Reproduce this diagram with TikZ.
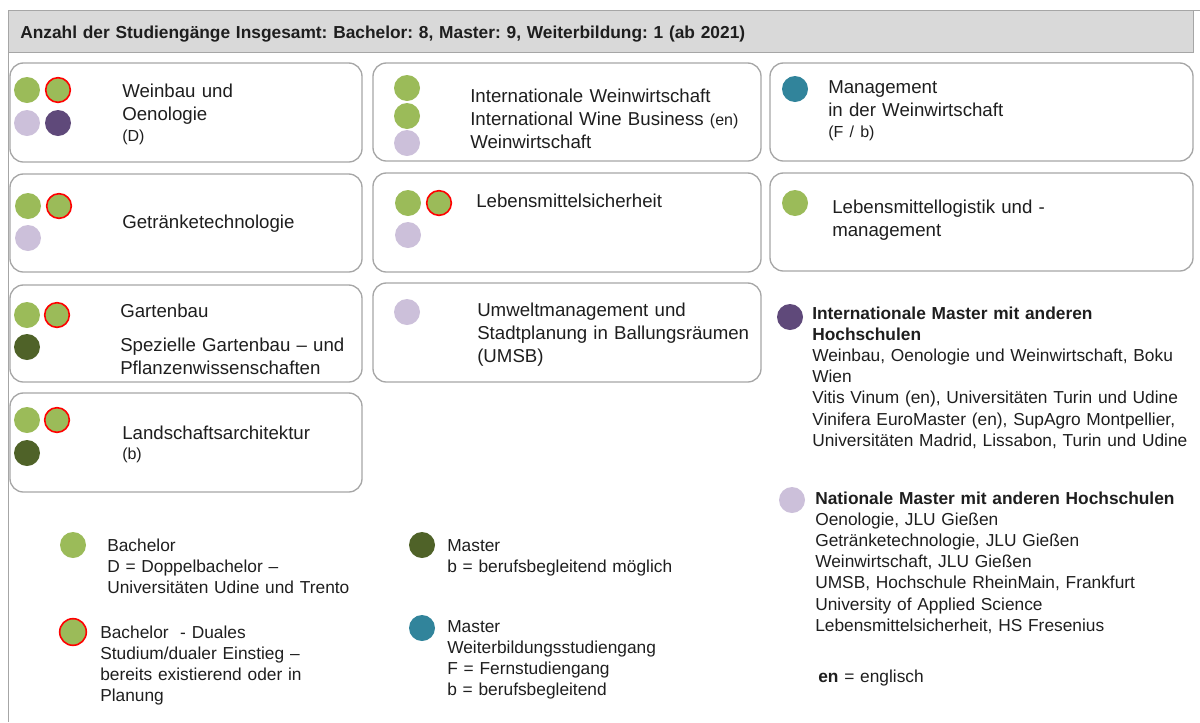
\documentclass[tikz,border=0pt]{standalone}
\usepackage{fontspec}
\setmainfont{Liberation Sans}
\frenchspacing
\definecolor{bsc}{HTML}{9BBB59}
\definecolor{lav}{HTML}{CCC0DA}
\definecolor{lila}{HTML}{5F497A}
\definecolor{msc}{HTML}{4F6228}
\definecolor{wbl}{HTML}{31849B}
\definecolor{rahmen}{HTML}{A6A6A6}
\definecolor{kopf}{HTML}{D9D9D9}
\definecolor{schrift}{HTML}{1E1E1E}

\begin{document}
\begin{tikzpicture}[x=0.75pt, y=-0.75pt,
    box/.style={draw=rahmen, line width=1pt, rounded corners=10pt},
    dot/.style={circle, inner sep=0pt, minimum size=19.5pt},
    dual/.style={dot, fill=bsc, draw=red, line width=1.2pt, minimum size=18.5pt},
    txt/.style={anchor=base west, inner sep=0pt, text width=300pt, align=left,
        text=schrift, font=\fontsize{14pt}{17.5pt}\selectfont},
    leg/.style={txt, font=\fontsize{13pt}{15.9pt}\selectfont}]

    \useasboundingbox (0,0) rectangle (1200,722);

    % Kopfzeile
    \draw[rahmen] (8,10) -- (1200,10);
    \draw[rahmen] (8,10) -- (8,722);
    \draw[draw=rahmen, fill=kopf] (8,10) rectangle (1193,52);
    \node[txt, text width=600pt, font=\bfseries\fontsize{13pt}{15pt}\selectfont] (kopf) at (20,38)
        {Anzahl der Studiengänge Insgesamt: Bachelor: 8, Master: 9, Weiterbildung: 1 (ab 2021)};

    % Kaesten
    \draw[box] (10,63) rectangle (362,162);
    \draw[box] (373,63) rectangle (761,161);
    \draw[box] (770,63) rectangle (1193,161);
    \draw[box] (10,174) rectangle (362,272);
    \draw[box] (373,173) rectangle (761,272);
    \draw[box] (770,173) rectangle (1193,271);
    \draw[box] (10,285) rectangle (362,382);
    \draw[box] (373,283) rectangle (761,382);
    \draw[box] (10,393) rectangle (362,492);

    % Weinbau und Oenologie
    \node[dot, fill=bsc] (wo1) at (27,90) {};
    \node[dual] (wo2) at (58,90) {};
    \node[dot, fill=lav] (wo3) at (27,123) {};
    \node[dot, fill=lila] (wo4) at (58,123) {};
    \node[txt] (wo) at (122,97) {Weinbau und\\Oenologie\\[-2pt]{\fontsize{12pt}{13pt}\selectfont (D)}};

    % Weinwirtschaft
    \node[dot, fill=bsc] (ww1) at (407,88) {};
    \node[dot, fill=bsc] (ww2) at (407,116) {};
    \node[dot, fill=lav] (ww3) at (407,143) {};
    \node[txt] (ww) at (470,102) {Internationale Weinwirtschaft\\International Wine Business {\fontsize{12pt}{13pt}\selectfont (en)}\\Weinwirtschaft};

    % Management
    \node[dot, fill=wbl] (mw1) at (795,89) {};
    \node[txt] (mw) at (828,93) {Management\\in der Weinwirtschaft\\[-2pt]{\fontsize{12pt}{13pt}\selectfont (F / b)}};

    % Getraenketechnologie
    \node[dot, fill=bsc] (gt1) at (28,206) {};
    \node[dual] (gt2) at (59,206) {};
    \node[dot, fill=lav] (gt3) at (28,238) {};
    \node[txt] (gt) at (122,228) {Getränketechnologie};

    % Lebensmittelsicherheit
    \node[dot, fill=bsc] (ls1) at (408,203) {};
    \node[dual] (ls2) at (439,203) {};
    \node[dot, fill=lav] (ls3) at (408,235) {};
    \node[txt] (ls) at (476,207) {Lebensmittelsicherheit};

    % Lebensmittellogistik
    \node[dot, fill=bsc] (ll1) at (795,203) {};
    \node[txt] (ll) at (832,213) {Lebensmittellogistik und -\\management};

    % Gartenbau
    \node[dot, fill=bsc] (gb1) at (27,315) {};
    \node[dual] (gb2) at (57,315) {};
    \node[dot, fill=msc] (gb3) at (27,347) {};
    \node[txt] (gb) at (120,317) {Gartenbau};
    \node[txt] (pw) at (120,351) {Spezielle Gartenbau -- und\\Pflanzenwissenschaften};

    % Landschaftsarchitektur
    \node[dot, fill=bsc] (la1) at (27,420) {};
    \node[dual] (la2) at (57,420) {};
    \node[dot, fill=msc] (la3) at (27,453) {};
    \node[txt] (la) at (122,439) {Landschaftsarchitektur\\[-2pt]{\fontsize{12pt}{13pt}\selectfont (b)}};

    % UMSB
    \node[dot, fill=lav] (um1) at (407,312) {};
    \node[txt] (um) at (477,316) {Umweltmanagement und\\Stadtplanung in Ballungsräumen\\(UMSB)};

    % Master mit anderen Hochschulen
    \node[dot, fill=lila] (im1) at (790,317) {};
    \node[leg] (im) at (812,319) {\textbf{Internationale Master mit anderen}\\\textbf{Hochschulen}\\
        Weinbau, Oenologie und Weinwirtschaft, Boku\\Wien\\
        Vitis Vinum (en), Universitäten Turin und Udine\\
        Vinifera EuroMaster (en), SupAgro Montpellier,\\
        Universitäten Madrid, Lissabon, Turin und Udine};
    \node[dot, fill=lav] (nm1) at (792,500) {};
    \node[leg] (nm) at (815,504) {\textbf{Nationale Master mit anderen Hochschulen}\\
        Oenologie, JLU Gießen\\Getränketechnologie, JLU Gießen\\Weinwirtschaft, JLU Gießen\\
        UMSB, Hochschule RheinMain, Frankfurt\\University of Applied Science\\
        Lebensmittelsicherheit, HS Fresenius};
    \node[leg] (en) at (818,682) {\textbf{en} = englisch};

    % Legende
    \node[dot, fill=bsc] (lg1) at (73,545) {};
    \node[leg] (lgt1) at (107,551) {Bachelor\\D = Doppelbachelor --\\Universitäten Udine und Trento};
    \node[dual, minimum size=20pt] (lg2) at (73,632) {};
    \node[leg] (lgt2) at (100,638) {Bachelor\ \ - Duales\\Studium/dualer Einstieg --\\bereits existierend oder in\\Planung};
    \node[dot, fill=msc] (lg3) at (422,545) {};
    \node[leg] (lgt3) at (447,551) {Master\\b = berufsbegleitend möglich};
    \node[dot, fill=wbl] (lg4) at (422,628) {};
    \node[leg] (lgt4) at (447,632) {Master\\Weiterbildungsstudiengang\\F = Fernstudiengang\\b = berufsbegleitend};
\end{tikzpicture}
\end{document}
